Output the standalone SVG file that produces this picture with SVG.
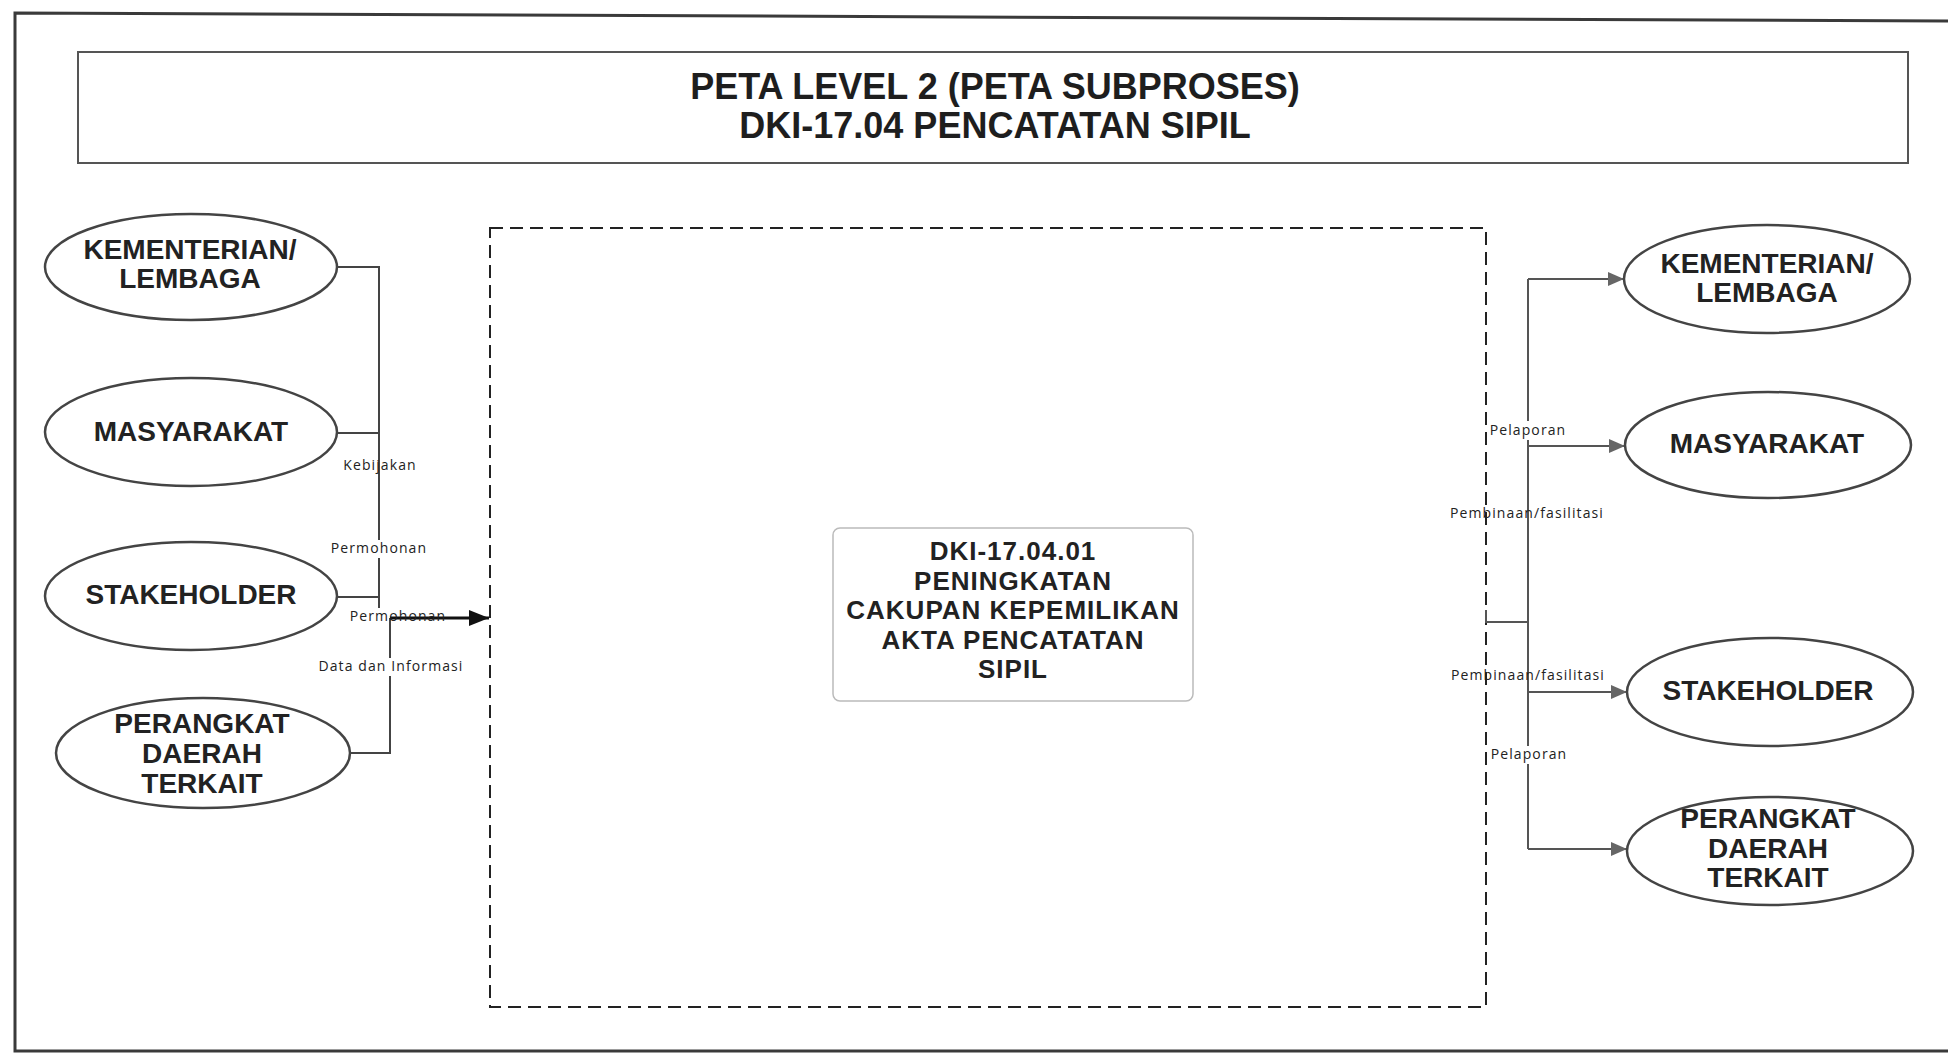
<svg xmlns="http://www.w3.org/2000/svg" width="1948" height="1054" viewBox="0 0 1948 1054">
<style>
.frame{fill:none;stroke:#3a3a3a;stroke-width:3}
.tbox{fill:#fff;stroke:#555;stroke-width:2}
.title{font-family:"Liberation Sans",Arial,sans-serif;font-weight:bold;font-size:36px;fill:#1e1e1e;text-anchor:middle}
.ell{fill:#fff;stroke:#444;stroke-width:2.5}
.nt{font-family:"Liberation Sans",Arial,sans-serif;font-weight:bold;font-size:28px;fill:#222;text-anchor:middle}
.pt{font-family:"Liberation Sans",Arial,sans-serif;font-weight:bold;font-size:26px;letter-spacing:1px;fill:#222;text-anchor:middle}
.dash{fill:none;stroke:#222;stroke-width:2;stroke-dasharray:13 7}
.proc{fill:#fff;stroke:#bbb;stroke-width:1.5}
.ln{fill:none;stroke:#444;stroke-width:2}
.lnr{fill:none;stroke:#555;stroke-width:2}
.blk{fill:none;stroke:#111;stroke-width:3}
.lbl{font-family:"Open Sans","DejaVu Sans",sans-serif;font-size:14px;letter-spacing:1.1px;fill:#222;text-anchor:middle}
.bg{fill:#fff}
</style>
<defs>
<marker id="ag" markerUnits="userSpaceOnUse" markerWidth="16" markerHeight="14" refX="16" refY="7" orient="auto"><path d="M0 0 L16 7 L0 14 Z" fill="#666"/></marker>
<marker id="ab" markerUnits="userSpaceOnUse" markerWidth="20" markerHeight="16" refX="20" refY="8" orient="auto"><path d="M0 0 L20 8 L0 16 Z" fill="#111"/></marker>
</defs>
<rect width="1948" height="1054" fill="#fff"/>
<g id="frame">
<path class="frame" d="M1948 21 L15 13 L15 1051 L1948 1051"/>
</g>
<g id="title">
<rect class="tbox" x="78" y="52" width="1830" height="111"/>
<text class="title" x="995" y="99">PETA LEVEL 2 (PETA SUBPROSES)</text>
<text class="title" x="995" y="138">DKI-17.04 PENCATATAN SIPIL</text>
</g>
<g id="boundary">
<rect class="dash" x="490" y="228" width="996" height="779"/>
</g>
<g id="connectors">
<path class="ln" d="M337 267 H379 V608"/>
<path class="ln" d="M337 433 H379"/>
<path class="ln" d="M337 597 H379"/>
<path class="ln" d="M350 753 H390 V618"/>
<path class="blk" d="M390 618 H489" marker-end="url(#ab)"/>
<path class="lnr" d="M1486 610 V622 H1528"/>
<path class="lnr" d="M1528 279 V849"/>
<path class="lnr" d="M1528 279 H1624" marker-end="url(#ag)"/>
<path class="lnr" d="M1528 446 H1625" marker-end="url(#ag)"/>
<path class="lnr" d="M1528 692 H1627" marker-end="url(#ag)"/>
<path class="lnr" d="M1528 849 H1627" marker-end="url(#ag)"/>
<text class="lbl" x="380" y="470">Kebijakan</text>
<rect class="bg" x="330" y="540" width="100" height="18"/>
<text class="lbl" x="379" y="553">Permohonan</text>
<text class="lbl" x="398" y="621">Permohonan</text>
<rect class="bg" x="316" y="658" width="150" height="18"/>
<text class="lbl" x="391" y="671">Data dan Informasi</text>
<rect class="bg" x="1488" y="421" width="80" height="19"/>
<text class="lbl" x="1528" y="435">Pelaporan</text>
<text class="lbl" x="1527" y="518">Pembinaan/fasilitasi</text>
<text class="lbl" x="1528" y="680">Pembinaan/fasilitasi</text>
<rect class="bg" x="1489" y="746" width="80" height="18"/>
<text class="lbl" x="1529" y="759">Pelaporan</text>
</g>
<g id="in-kementerian">
<ellipse class="ell" cx="191" cy="267" rx="146" ry="53"/>
<text class="nt" x="190" y="259">KEMENTERIAN/</text>
<text class="nt" x="190" y="288">LEMBAGA</text>
</g>
<g id="in-masyarakat">
<ellipse class="ell" cx="191" cy="432" rx="146" ry="54"/>
<text class="nt" x="191" y="441">MASYARAKAT</text>
</g>
<g id="in-stakeholder">
<ellipse class="ell" cx="191" cy="596" rx="146" ry="54"/>
<text class="nt" x="191" y="604">STAKEHOLDER</text>
</g>
<g id="in-perangkat">
<ellipse class="ell" cx="203" cy="753" rx="147" ry="55"/>
<text class="nt" x="202" y="733">PERANGKAT</text>
<text class="nt" x="202" y="763">DAERAH</text>
<text class="nt" x="202" y="793">TERKAIT</text>
</g>
<g id="process">
<rect class="proc" x="833" y="528" width="360" height="173" rx="7"/>
<text class="pt" x="1013" y="560">DKI-17.04.01</text>
<text class="pt" x="1013" y="589.5">PENINGKATAN</text>
<text class="pt" x="1013" y="619">CAKUPAN KEPEMILIKAN</text>
<text class="pt" x="1013" y="648.5">AKTA PENCATATAN</text>
<text class="pt" x="1013" y="678">SIPIL</text>
</g>
<g id="out-kementerian">
<ellipse class="ell" cx="1767" cy="279" rx="143" ry="54"/>
<text class="nt" x="1767" y="273">KEMENTERIAN/</text>
<text class="nt" x="1767" y="302">LEMBAGA</text>
</g>
<g id="out-masyarakat">
<ellipse class="ell" cx="1768" cy="445" rx="143" ry="53"/>
<text class="nt" x="1767" y="453">MASYARAKAT</text>
</g>
<g id="out-stakeholder">
<ellipse class="ell" cx="1770" cy="692" rx="143" ry="54"/>
<text class="nt" x="1768" y="700">STAKEHOLDER</text>
</g>
<g id="out-perangkat">
<ellipse class="ell" cx="1770" cy="851" rx="143" ry="54"/>
<text class="nt" x="1768" y="828">PERANGKAT</text>
<text class="nt" x="1768" y="858">DAERAH</text>
<text class="nt" x="1768" y="887">TERKAIT</text>
</g>
</svg>
